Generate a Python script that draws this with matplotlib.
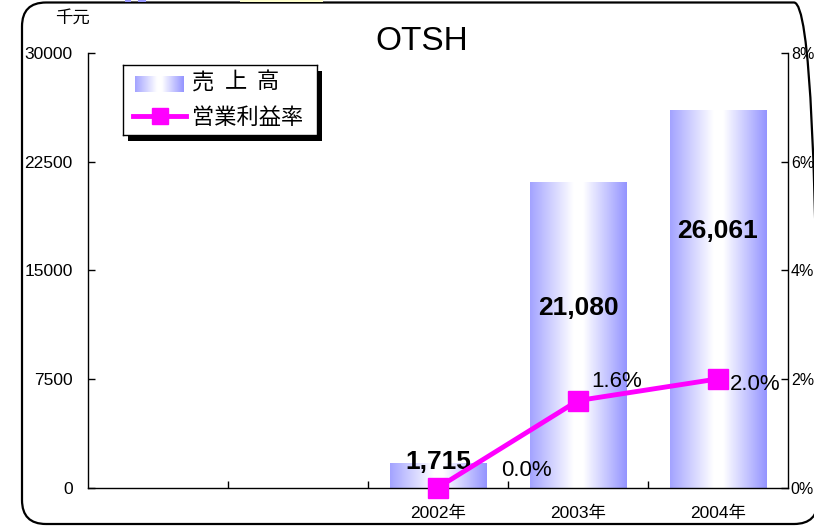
import numpy as np
import matplotlib
matplotlib.use('Agg')
import matplotlib.pyplot as plt
from matplotlib.colors import LinearSegmentedColormap
from matplotlib.patches import FancyBboxPatch, Rectangle
from matplotlib.transforms import IdentityTransform

plt.rcParams['font.family'] = ['Liberation Sans', 'Noto Sans CJK JP']

# sales (thousand yen) and operating margin (%)
years = ['2002年', '2003年', '2004年']
empty_slots = 2
sales = [1715, 21080, 26061]
margin = [0.0, 1.6, 2.0]
sales_ticks = [0, 7500, 15000, 22500, 30000]
margin_ticks = [0, 2, 4, 6, 8]

W, H = 814, 526
fig = plt.figure(figsize=(W / 100, H / 100), dpi=100)


def px_box(left, top, right, bottom):
    return [left / W, 1 - bottom / H, (right - left) / W, (bottom - top) / H]


bar_cmap = LinearSegmentedColormap.from_list(
    'barfade', [(0, '#A3A3FF'), (0.45, '#FFFFFF'), (0.55, '#FFFFFF'), (1, '#9494FF')])
grad = np.linspace(0, 1, 256).reshape(1, -1)

ax = fig.add_axes(px_box(88, 53, 788, 487.5))
x = np.arange(empty_slots, empty_slots + len(years))
bars = ax.bar(x, sales, width=0.69, color='none', zorder=1)
for r in bars:
    x0, w, h = r.get_x(), r.get_width(), r.get_height()
    ax.imshow(grad, cmap=bar_cmap, extent=[x0, x0 + w, 0, h], aspect='auto',
              interpolation='bilinear', zorder=1)

# value labels on the bars
label_y = [1750, 12400, 17700]
for xi, v, ly in zip(x, sales, label_y):
    ax.text(xi, ly, f'{v:,}', ha='center', va='center', fontsize=19, fontweight='bold', zorder=4)

ax.set_xlim(-0.5, empty_slots + len(years) - 0.5)
ax.set_ylim(0, 30000)
ax.set_yticks(sales_ticks)
ax.set_yticklabels([str(v) for v in sales_ticks])
ax.set_xticks(np.arange(0.5, empty_slots + len(years) - 0.5, 1))
ax.set_xticklabels([])
ax.set_xticks(x, minor=True)
ax.set_xticklabels(years, minor=True)
ax.tick_params(axis='x', which='minor', length=0, pad=13, labelsize=12.5)
ax.tick_params(axis='x', which='major', direction='in', length=5, width=1)
ax.tick_params(axis='y', direction='in', length=5, width=1, pad=11, labelsize=12.5)
for s in ['top', 'right']:
    ax.spines[s].set_visible(False)
for s in ['left', 'bottom']:
    ax.spines[s].set_linewidth(1)

ax2 = ax.twinx()
ax2.set_ylim(0, 8)
ax2.set_yticks(margin_ticks)
ax2.set_yticklabels([f'{v}%' for v in margin_ticks])
ax2.tick_params(axis='y', direction='in', length=5, width=1, pad=2, labelsize=11.5)
for s in ['top', 'left', 'bottom']:
    ax2.spines[s].set_visible(False)
ax2.spines['right'].set_linewidth(1)
ax2.plot(x, margin, color='#FF00FF', lw=3.5, marker='s', ms=14, clip_on=False, zorder=3)

pct_offsets = [(64, 12), (28, 14), (27, -4)]
for xi, m, off in zip(x, margin, pct_offsets):
    ax2.annotate(f'{m:.1f}%', (xi, m), xytext=off, textcoords='offset points',
                 ha='center', va='center', fontsize=16)

fig.text(422 / W, 1 - 41 / H, 'OTSH', ha='center', va='center', fontsize=24)
fig.text(72 / W, 1 - 18 / H, '千元', ha='center', va='center', fontsize=12.5)

# rounded outer frame
frame = FancyBboxPatch((22, 2), 796, 521.5, boxstyle='round,pad=0,rounding_size=24',
                       transform=IdentityTransform(), fill=False, lw=1.6,
                       edgecolor='black', zorder=1)
fig.add_artist(frame)
for left, right, col in [(125, 131, '#9999FF'), (138, 146, '#9999FF'), (240, 323, '#FFFFCC')]:
    fig.add_artist(Rectangle((left, H - 2), right - left, 2, transform=IdentityTransform(),
                             color=col, lw=0, zorder=1))

# legend box with a hard drop shadow
shadow = Rectangle((128, H - 141), 194, 70, transform=IdentityTransform(),
                   color='black', lw=0, zorder=2)
fig.add_artist(shadow)
lax = fig.add_axes(px_box(123, 65, 317, 135))
lax.set_zorder(3)
lax.set_xticks([])
lax.set_yticks([])
for s in lax.spines.values():
    s.set_linewidth(1)
lax.imshow(grad, cmap=bar_cmap, extent=[135, 184, 92, 76], aspect='auto',
           interpolation='bilinear')
lax.plot([133, 186], [116, 116], color='#FF00FF', lw=3.5)
lax.plot([159.5], [116], color='#FF00FF', marker='s', ms=12)
for cx, ch in zip([192, 224.5, 257], '売上高'):
    lax.text(cx, 83, ch, ha='left', va='center', fontsize=16)
lax.text(192, 118, '営業利益率', ha='left', va='center', fontsize=16)
lax.set_xlim(123, 317)
lax.set_ylim(135, 65)

fig.savefig('out.png', dpi=100)
